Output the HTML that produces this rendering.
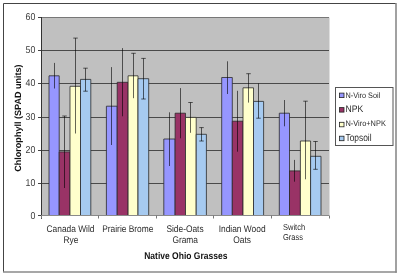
<!DOCTYPE html>
<html><head><meta charset="utf-8"><style>
html,body{margin:0;padding:0;background:#fff;}
svg{display:block;font-family:"Liberation Sans",sans-serif;will-change:transform;text-rendering:geometricPrecision;}
</style></head><body>
<svg width="400" height="276" viewBox="0 0 400 276">
<rect x="0" y="0" width="400" height="276" fill="#fff"/>
<path d="M3.5 272 V3.5 H396" fill="none" stroke="#444" stroke-width="1"/>
<line x1="396" y1="3" x2="396" y2="272.8" stroke="#8a8a8a" stroke-width="1.6"/>
<line x1="3" y1="272" x2="396.8" y2="272" stroke="#8a8a8a" stroke-width="1.6"/>
<rect x="41" y="17.5" width="288.5" height="198.0" fill="#C0C0C0"/>
<line x1="41" y1="215.50" x2="329" y2="215.50" stroke="#4a4a4a" stroke-width="1"/>
<line x1="38" y1="215.50" x2="41" y2="215.50" stroke="#444" stroke-width="1"/>
<line x1="41" y1="183.50" x2="329" y2="183.50" stroke="#4a4a4a" stroke-width="1"/>
<line x1="38" y1="183.50" x2="41" y2="183.50" stroke="#444" stroke-width="1"/>
<line x1="41" y1="150.50" x2="329" y2="150.50" stroke="#4a4a4a" stroke-width="1"/>
<line x1="38" y1="150.50" x2="41" y2="150.50" stroke="#444" stroke-width="1"/>
<line x1="41" y1="117.50" x2="329" y2="117.50" stroke="#4a4a4a" stroke-width="1"/>
<line x1="38" y1="117.50" x2="41" y2="117.50" stroke="#444" stroke-width="1"/>
<line x1="41" y1="83.50" x2="329" y2="83.50" stroke="#4a4a4a" stroke-width="1"/>
<line x1="38" y1="83.50" x2="41" y2="83.50" stroke="#444" stroke-width="1"/>
<line x1="41" y1="50.50" x2="329" y2="50.50" stroke="#4a4a4a" stroke-width="1"/>
<line x1="38" y1="50.50" x2="41" y2="50.50" stroke="#444" stroke-width="1"/>
<line x1="41" y1="17.50" x2="329" y2="17.50" stroke="#777" stroke-width="1"/>
<line x1="38" y1="17.50" x2="41" y2="17.50" stroke="#444" stroke-width="1"/>
<rect x="49.00" y="75.80" width="10.20" height="139.70" fill="#9696FF"/>
<path d="M49.00 215.5 V75.80 H59.20 V215.5" fill="none" stroke="#2a2a2a" stroke-width="0.8"/>
<rect x="59.20" y="151.90" width="10.80" height="63.60" fill="#993366"/>
<path d="M59.20 215.5 V151.90 H70.00 V215.5" fill="none" stroke="#2a2a2a" stroke-width="0.8"/>
<rect x="70.00" y="86.30" width="10.50" height="129.20" fill="#FFFFCC"/>
<path d="M70.00 215.5 V86.30 H80.50 V215.5" fill="none" stroke="#2a2a2a" stroke-width="0.8"/>
<rect x="80.50" y="79.40" width="10.30" height="136.10" fill="#A6CAF0"/>
<path d="M80.50 215.5 V79.40 H90.80 V215.5" fill="none" stroke="#2a2a2a" stroke-width="0.8"/>
<rect x="106.40" y="106.20" width="10.80" height="109.30" fill="#9696FF"/>
<path d="M106.40 215.5 V106.20 H117.20 V215.5" fill="none" stroke="#2a2a2a" stroke-width="0.8"/>
<rect x="117.20" y="82.30" width="10.90" height="133.20" fill="#993366"/>
<path d="M117.20 215.5 V82.30 H128.10 V215.5" fill="none" stroke="#2a2a2a" stroke-width="0.8"/>
<rect x="128.10" y="75.80" width="9.90" height="139.70" fill="#FFFFCC"/>
<path d="M128.10 215.5 V75.80 H138.00 V215.5" fill="none" stroke="#2a2a2a" stroke-width="0.8"/>
<rect x="138.00" y="78.70" width="10.70" height="136.80" fill="#A6CAF0"/>
<path d="M138.00 215.5 V78.70 H148.70 V215.5" fill="none" stroke="#2a2a2a" stroke-width="0.8"/>
<rect x="163.80" y="139.00" width="11.30" height="76.50" fill="#9696FF"/>
<path d="M163.80 215.5 V139.00 H175.10 V215.5" fill="none" stroke="#2a2a2a" stroke-width="0.8"/>
<rect x="175.10" y="113.20" width="10.40" height="102.30" fill="#993366"/>
<path d="M175.10 215.5 V113.20 H185.50 V215.5" fill="none" stroke="#2a2a2a" stroke-width="0.8"/>
<rect x="185.50" y="117.40" width="10.70" height="98.10" fill="#FFFFCC"/>
<path d="M185.50 215.5 V117.40 H196.20 V215.5" fill="none" stroke="#2a2a2a" stroke-width="0.8"/>
<rect x="196.20" y="134.30" width="10.20" height="81.20" fill="#A6CAF0"/>
<path d="M196.20 215.5 V134.30 H206.40 V215.5" fill="none" stroke="#2a2a2a" stroke-width="0.8"/>
<rect x="221.70" y="77.50" width="10.60" height="138.00" fill="#9696FF"/>
<path d="M221.70 215.5 V77.50 H232.30 V215.5" fill="none" stroke="#2a2a2a" stroke-width="0.8"/>
<rect x="232.30" y="121.20" width="10.70" height="94.30" fill="#993366"/>
<path d="M232.30 215.5 V121.20 H243.00 V215.5" fill="none" stroke="#2a2a2a" stroke-width="0.8"/>
<rect x="243.00" y="87.80" width="10.50" height="127.70" fill="#FFFFCC"/>
<path d="M243.00 215.5 V87.80 H253.50 V215.5" fill="none" stroke="#2a2a2a" stroke-width="0.8"/>
<rect x="253.50" y="101.40" width="10.10" height="114.10" fill="#A6CAF0"/>
<path d="M253.50 215.5 V101.40 H263.60 V215.5" fill="none" stroke="#2a2a2a" stroke-width="0.8"/>
<rect x="279.30" y="113.20" width="10.20" height="102.30" fill="#9696FF"/>
<path d="M279.30 215.5 V113.20 H289.50 V215.5" fill="none" stroke="#2a2a2a" stroke-width="0.8"/>
<rect x="289.50" y="170.90" width="10.90" height="44.60" fill="#993366"/>
<path d="M289.50 215.5 V170.90 H300.40 V215.5" fill="none" stroke="#2a2a2a" stroke-width="0.8"/>
<rect x="300.40" y="141.00" width="10.20" height="74.50" fill="#FFFFCC"/>
<path d="M300.40 215.5 V141.00 H310.60 V215.5" fill="none" stroke="#2a2a2a" stroke-width="0.8"/>
<rect x="310.60" y="156.30" width="10.40" height="59.20" fill="#A6CAF0"/>
<path d="M310.60 215.5 V156.30 H321.00 V215.5" fill="none" stroke="#2a2a2a" stroke-width="0.8"/>
<line x1="54.50" y1="62.90" x2="54.50" y2="88.50" stroke="#000" stroke-opacity="0.6" stroke-width="1"/>
<line x1="64.50" y1="116.00" x2="64.50" y2="188.00" stroke="#000" stroke-opacity="0.6" stroke-width="1"/>
<line x1="62.25" y1="116.00" x2="66.75" y2="116.00" stroke="#000" stroke-opacity="0.6" stroke-width="1"/>
<line x1="75.50" y1="38.10" x2="75.50" y2="133.50" stroke="#000" stroke-opacity="0.6" stroke-width="1"/>
<line x1="73.25" y1="38.10" x2="77.75" y2="38.10" stroke="#000" stroke-opacity="0.6" stroke-width="1"/>
<line x1="85.50" y1="68.20" x2="85.50" y2="91.20" stroke="#000" stroke-opacity="0.6" stroke-width="1"/>
<line x1="83.25" y1="68.20" x2="87.75" y2="68.20" stroke="#000" stroke-opacity="0.6" stroke-width="1"/>
<line x1="83.25" y1="91.20" x2="87.75" y2="91.20" stroke="#000" stroke-opacity="0.6" stroke-width="1"/>
<line x1="111.50" y1="67.10" x2="111.50" y2="145.00" stroke="#000" stroke-opacity="0.6" stroke-width="1"/>
<line x1="122.50" y1="48.10" x2="122.50" y2="116.30" stroke="#000" stroke-opacity="0.6" stroke-width="1"/>
<line x1="133.50" y1="53.30" x2="133.50" y2="98.20" stroke="#000" stroke-opacity="0.6" stroke-width="1"/>
<line x1="131.25" y1="53.30" x2="135.75" y2="53.30" stroke="#000" stroke-opacity="0.6" stroke-width="1"/>
<line x1="143.50" y1="58.40" x2="143.50" y2="99.00" stroke="#000" stroke-opacity="0.6" stroke-width="1"/>
<line x1="141.25" y1="58.40" x2="145.75" y2="58.40" stroke="#000" stroke-opacity="0.6" stroke-width="1"/>
<line x1="141.25" y1="99.00" x2="145.75" y2="99.00" stroke="#000" stroke-opacity="0.6" stroke-width="1"/>
<line x1="169.50" y1="112.30" x2="169.50" y2="166.00" stroke="#000" stroke-opacity="0.6" stroke-width="1"/>
<line x1="180.50" y1="88.10" x2="180.50" y2="138.30" stroke="#000" stroke-opacity="0.6" stroke-width="1"/>
<line x1="190.50" y1="102.50" x2="190.50" y2="132.80" stroke="#000" stroke-opacity="0.6" stroke-width="1"/>
<line x1="188.25" y1="102.50" x2="192.75" y2="102.50" stroke="#000" stroke-opacity="0.6" stroke-width="1"/>
<line x1="201.50" y1="127.60" x2="201.50" y2="141.00" stroke="#000" stroke-opacity="0.6" stroke-width="1"/>
<line x1="199.25" y1="127.60" x2="203.75" y2="127.60" stroke="#000" stroke-opacity="0.6" stroke-width="1"/>
<line x1="199.25" y1="141.00" x2="203.75" y2="141.00" stroke="#000" stroke-opacity="0.6" stroke-width="1"/>
<line x1="227.50" y1="61.30" x2="227.50" y2="94.00" stroke="#000" stroke-opacity="0.6" stroke-width="1"/>
<line x1="237.50" y1="90.80" x2="237.50" y2="151.70" stroke="#000" stroke-opacity="0.6" stroke-width="1"/>
<line x1="248.50" y1="73.70" x2="248.50" y2="102.60" stroke="#000" stroke-opacity="0.6" stroke-width="1"/>
<line x1="246.25" y1="73.70" x2="250.75" y2="73.70" stroke="#000" stroke-opacity="0.6" stroke-width="1"/>
<line x1="258.50" y1="83.40" x2="258.50" y2="118.20" stroke="#000" stroke-opacity="0.6" stroke-width="1"/>
<line x1="256.25" y1="118.20" x2="260.75" y2="118.20" stroke="#000" stroke-opacity="0.6" stroke-width="1"/>
<line x1="284.50" y1="100.00" x2="284.50" y2="126.30" stroke="#000" stroke-opacity="0.6" stroke-width="1"/>
<line x1="294.50" y1="159.90" x2="294.50" y2="181.70" stroke="#000" stroke-opacity="0.6" stroke-width="1"/>
<line x1="305.50" y1="101.20" x2="305.50" y2="179.30" stroke="#000" stroke-opacity="0.6" stroke-width="1"/>
<line x1="303.25" y1="101.20" x2="307.75" y2="101.20" stroke="#000" stroke-opacity="0.6" stroke-width="1"/>
<line x1="315.50" y1="141.50" x2="315.50" y2="169.30" stroke="#000" stroke-opacity="0.6" stroke-width="1"/>
<line x1="313.25" y1="141.50" x2="317.75" y2="141.50" stroke="#000" stroke-opacity="0.6" stroke-width="1"/>
<line x1="313.25" y1="169.30" x2="317.75" y2="169.30" stroke="#000" stroke-opacity="0.6" stroke-width="1"/>
<line x1="41.5" y1="17" x2="41.5" y2="219" stroke="#333" stroke-width="1"/>
<line x1="41" y1="215.5" x2="329" y2="215.5" stroke="#8a8a8a" stroke-width="1"/>
<line x1="41.50" y1="215.5" x2="41.50" y2="218.5" stroke="#777" stroke-width="1"/>
<line x1="98.50" y1="215.5" x2="98.50" y2="218.5" stroke="#777" stroke-width="1"/>
<line x1="156.50" y1="215.5" x2="156.50" y2="218.5" stroke="#777" stroke-width="1"/>
<line x1="213.50" y1="215.5" x2="213.50" y2="218.5" stroke="#777" stroke-width="1"/>
<line x1="271.50" y1="215.5" x2="271.50" y2="218.5" stroke="#777" stroke-width="1"/>
<line x1="329.50" y1="215.5" x2="329.50" y2="218.5" stroke="#777" stroke-width="1"/>
<text transform="translate(35.3,219.00) scale(1,1.13)" text-anchor="end" font-size="8.8" fill="#3a3a3a">0</text>
<text transform="translate(35.3,186.10) scale(1,1.13)" text-anchor="end" font-size="8.8" fill="#3a3a3a">10</text>
<text transform="translate(35.3,153.10) scale(1,1.13)" text-anchor="end" font-size="8.8" fill="#3a3a3a">20</text>
<text transform="translate(35.3,120.10) scale(1,1.13)" text-anchor="end" font-size="8.8" fill="#3a3a3a">30</text>
<text transform="translate(35.3,86.10) scale(1,1.13)" text-anchor="end" font-size="8.8" fill="#3a3a3a">40</text>
<text transform="translate(35.3,53.10) scale(1,1.13)" text-anchor="end" font-size="8.8" fill="#3a3a3a">50</text>
<text transform="translate(35.3,20.10) scale(1,1.13)" text-anchor="end" font-size="8.8" fill="#3a3a3a">60</text>
<text transform="translate(70.5,231.5) scale(1,1.15)" text-anchor="middle" font-size="8.4" font-weight="normal" fill="#2a2a2a">Canada Wild</text>
<text transform="translate(71,242.7) scale(1,1.15)" text-anchor="middle" font-size="8.4" font-weight="normal" fill="#2a2a2a">Rye</text>
<text transform="translate(127.8,231.6) scale(1,1.15)" text-anchor="middle" font-size="8.4" font-weight="normal" fill="#2a2a2a">Prairie Brome</text>
<text transform="translate(185,231.6) scale(1,1.15)" text-anchor="middle" font-size="8.4" font-weight="normal" fill="#2a2a2a">Side-Oats</text>
<text transform="translate(185.2,243) scale(1,1.15)" text-anchor="middle" font-size="8.4" font-weight="normal" fill="#2a2a2a">Grama</text>
<text transform="translate(242.1,231.6) scale(1,1.15)" text-anchor="middle" font-size="8.4" font-weight="normal" fill="#2a2a2a">Indian Wood</text>
<text transform="translate(242.1,243) scale(1,1.15)" text-anchor="middle" font-size="8.4" font-weight="normal" fill="#2a2a2a">Oats</text>
<text transform="translate(283,229.6) scale(1,1.15)" text-anchor="start" font-size="7.5" font-weight="normal" fill="#2a2a2a">Switch</text>
<text transform="translate(283,240.0) scale(1,1.15)" text-anchor="start" font-size="7.5" font-weight="normal" fill="#2a2a2a">Grass</text>
<text transform="translate(185.8,258.8) scale(1,1.15)" text-anchor="middle" font-size="8.5" font-weight="bold" fill="#111">Native Ohio Grasses</text>
<text transform="translate(20.7,118.1) rotate(-90)" text-anchor="middle" font-size="9.05" font-weight="bold" fill="#111">Chlorophyll (SPAD units)</text>
<rect x="335.5" y="87.5" width="57.5" height="58" fill="#fff" stroke="#555" stroke-width="1"/>
<line x1="393" y1="88" x2="393" y2="145" stroke="#aaa" stroke-width="1"/>
<rect x="339.5" y="93.10" width="4.5" height="4.5" fill="#9696FF" stroke="#222" stroke-width="0.8"/>
<text transform="translate(345.5,98.2) scale(1,1.1)" text-anchor="start" font-size="7.3" font-weight="normal" fill="#2a2a2a">N-Viro Soil</text>
<rect x="339.5" y="107.60" width="4.5" height="4.5" fill="#993366" stroke="#222" stroke-width="0.8"/>
<text transform="translate(345.5,112.0) scale(1,1.1)" text-anchor="start" font-size="8.6" font-weight="normal" fill="#2a2a2a">NPK</text>
<rect x="339.5" y="122.30" width="4.5" height="4.5" fill="#FFFFCC" stroke="#222" stroke-width="0.8"/>
<text transform="translate(345.5,126.4) scale(1,1.1)" text-anchor="start" font-size="7.4" font-weight="normal" fill="#2a2a2a">N-Viro+NPK</text>
<rect x="339.5" y="136.20" width="4.5" height="4.5" fill="#A6CAF0" stroke="#222" stroke-width="0.8"/>
<text transform="translate(345.5,140.8) scale(1,1.2)" text-anchor="start" font-size="8.4" font-weight="normal" fill="#2a2a2a">Topsoil</text>
</svg>
</body></html>
